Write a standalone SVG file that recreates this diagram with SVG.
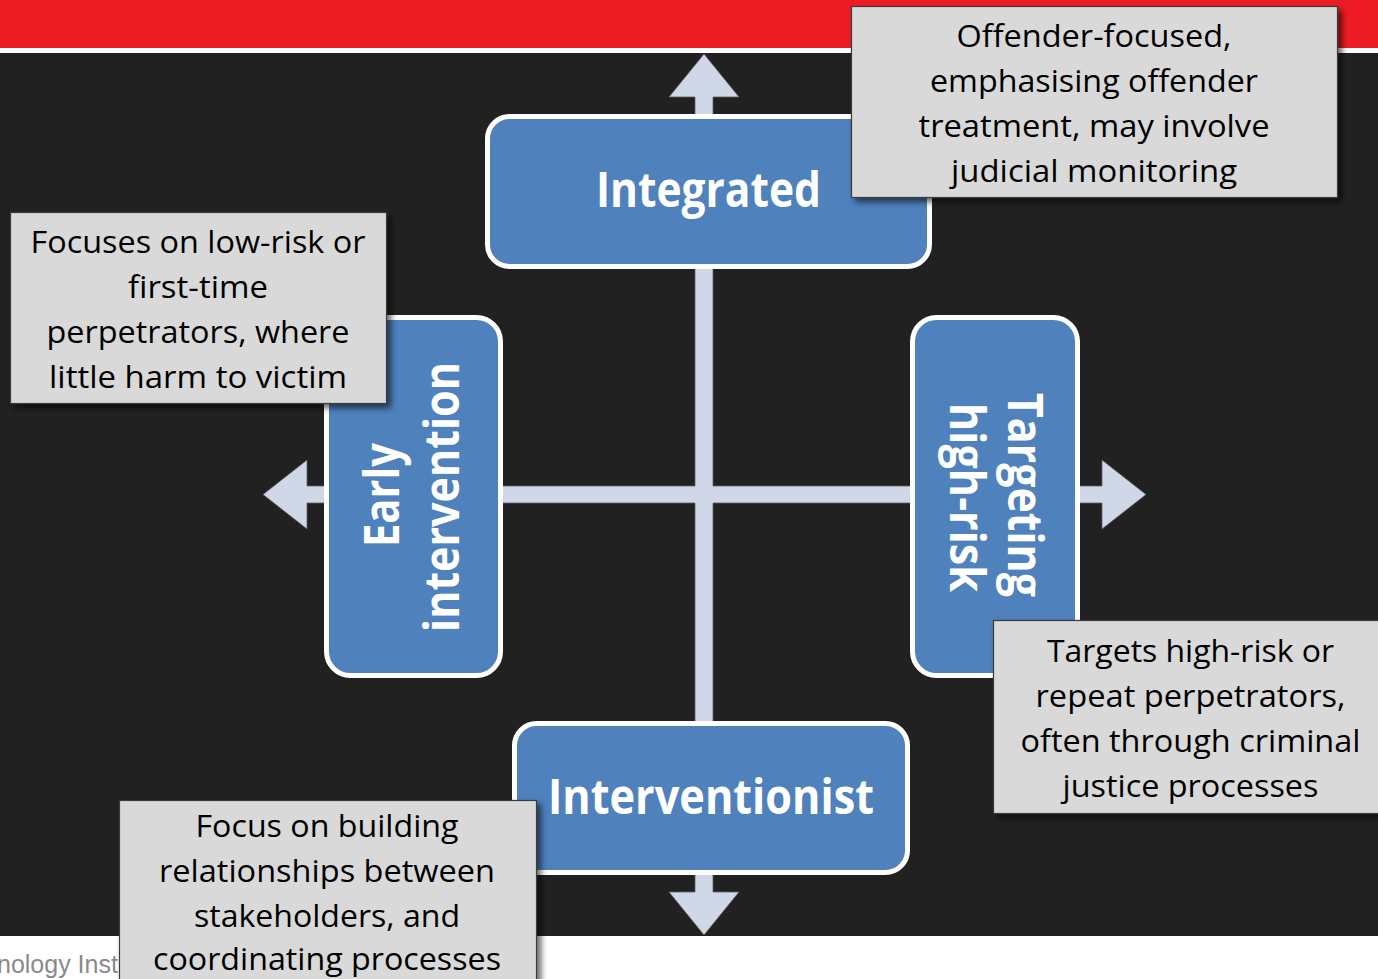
<svg xmlns="http://www.w3.org/2000/svg" width="1378" height="979" viewBox="0 0 1378 979">
  <defs>
    <filter id="shadow" x="-10%" y="-10%" width="130%" height="130%">
      <feDropShadow dx="4" dy="4" stdDeviation="3" flood-color="#000" flood-opacity="0.6"/>
    </filter>
    <style>
      .node { fill: #4F81BD; stroke: #FFFFFF; stroke-width: 5; }
      .ntext { font-family: "Open Sans", "Noto Sans", sans-serif; font-weight: bold; font-size: 48px; fill: #FFFFFF; text-anchor: middle; }
      .callout { fill: #D9D9D9; stroke: #3A3A3A; stroke-width: 1.2; }
      .ctext { font-family: "Open Sans", "Noto Sans", sans-serif; font-size: 31px; fill: #000000; text-anchor: middle; }
      .cross { fill: #D0D8E8; stroke: #5A5F68; stroke-width: 0.8; }
      .footer { font-family: "Liberation Sans", Arial, sans-serif; font-size: 25px; fill: #8A8A8A; }
    </style>
  </defs>

  <!-- background -->
  <rect x="0" y="0" width="1378" height="979" fill="#FFFFFF"/>
  <rect x="0" y="0" width="1378" height="48" fill="#ED1C24"/>
  <rect x="0" y="53" width="1378" height="883" fill="#212121"/>
  <text class="footer" x="-3" y="973">nology Inst</text>

  <!-- connectors: four-headed cross -->
  <g id="connectors">
    <polygon class="cross" points="704,54 739,97 713,97 713,486 1102,486 1102,460 1146,494.5 1102,529 1102,503 713,503 713,892 739,892 704,935 669,892 695,892 695,503 307,503 307,529 263,494.5 307,460 307,486 695,486 695,97 669,97"/>
  </g>

  <!-- nodes -->
  <g id="node-integrated">
    <rect class="node" x="487.5" y="116.5" width="442" height="150" rx="22" ry="22"/>
    <text class="ntext" x="708.5" y="207" textLength="225" lengthAdjust="spacingAndGlyphs">Integrated</text>
  </g>

  <g id="node-early">
    <rect class="node" x="326.5" y="317.5" width="174" height="358" rx="24" ry="24"/>
    <text class="ntext" transform="translate(399,495) rotate(-90)" x="0" y="0" textLength="104" lengthAdjust="spacingAndGlyphs">Early</text>
    <text class="ntext" transform="translate(459,497) rotate(-90)" x="0" y="0" textLength="270" lengthAdjust="spacingAndGlyphs">intervention</text>
  </g>

  <g id="node-targeting">
    <rect class="node" x="912.5" y="317.5" width="165" height="358" rx="24" ry="24"/>
    <text class="ntext" transform="translate(1008,495) rotate(90)" x="0" y="0" textLength="204" lengthAdjust="spacingAndGlyphs">Targeting</text>
    <text class="ntext" transform="translate(950,497.5) rotate(90)" x="0" y="0" textLength="189" lengthAdjust="spacingAndGlyphs">high-risk</text>
  </g>

  <g id="node-interventionist">
    <rect class="node" x="514.5" y="723.5" width="393" height="149" rx="22" ry="22"/>
    <text class="ntext" x="711" y="814" textLength="326" lengthAdjust="spacingAndGlyphs">Interventionist</text>
  </g>

  <!-- callouts -->
  <g id="callout-integrated">
    <rect class="callout" x="851.5" y="6.5" width="486" height="191" filter="url(#shadow)"/>
    <text class="ctext" x="1094" y="47" textLength="275" lengthAdjust="spacingAndGlyphs">Offender-focused,</text>
    <text class="ctext" x="1094" y="92" textLength="328" lengthAdjust="spacingAndGlyphs">emphasising offender</text>
    <text class="ctext" x="1094" y="137" textLength="351" lengthAdjust="spacingAndGlyphs">treatment, may involve</text>
    <text class="ctext" x="1094" y="182" textLength="286" lengthAdjust="spacingAndGlyphs">judicial monitoring</text>
  </g>

  <g id="callout-early">
    <rect class="callout" x="10.5" y="212.5" width="376" height="191" filter="url(#shadow)"/>
    <text class="ctext" x="198" y="253" textLength="335" lengthAdjust="spacingAndGlyphs">Focuses on low-risk or</text>
    <text class="ctext" x="198" y="298" textLength="140" lengthAdjust="spacingAndGlyphs">first-time</text>
    <text class="ctext" x="198" y="343" textLength="303" lengthAdjust="spacingAndGlyphs">perpetrators, where</text>
    <text class="ctext" x="198" y="388" textLength="298" lengthAdjust="spacingAndGlyphs">little harm to victim</text>
  </g>

  <g id="callout-targeting">
    <rect class="callout" x="993.5" y="620.5" width="392" height="193" filter="url(#shadow)"/>
    <text class="ctext" x="1190.5" y="662" textLength="287" lengthAdjust="spacingAndGlyphs">Targets high-risk or</text>
    <text class="ctext" x="1190.5" y="707" textLength="310" lengthAdjust="spacingAndGlyphs">repeat perpetrators,</text>
    <text class="ctext" x="1190.5" y="752" textLength="340" lengthAdjust="spacingAndGlyphs">often through criminal</text>
    <text class="ctext" x="1190.5" y="797" textLength="256" lengthAdjust="spacingAndGlyphs">justice processes</text>
  </g>

  <g id="callout-interventionist">
    <rect class="callout" x="119.5" y="800.5" width="417" height="190" filter="url(#shadow)"/>
    <text class="ctext" x="327" y="837" textLength="263" lengthAdjust="spacingAndGlyphs">Focus on building</text>
    <text class="ctext" x="327" y="882" textLength="336" lengthAdjust="spacingAndGlyphs">relationships between</text>
    <text class="ctext" x="327" y="927" textLength="266" lengthAdjust="spacingAndGlyphs">stakeholders, and</text>
    <text class="ctext" x="327" y="970" textLength="348" lengthAdjust="spacingAndGlyphs">coordinating processes</text>
  </g>
</svg>
